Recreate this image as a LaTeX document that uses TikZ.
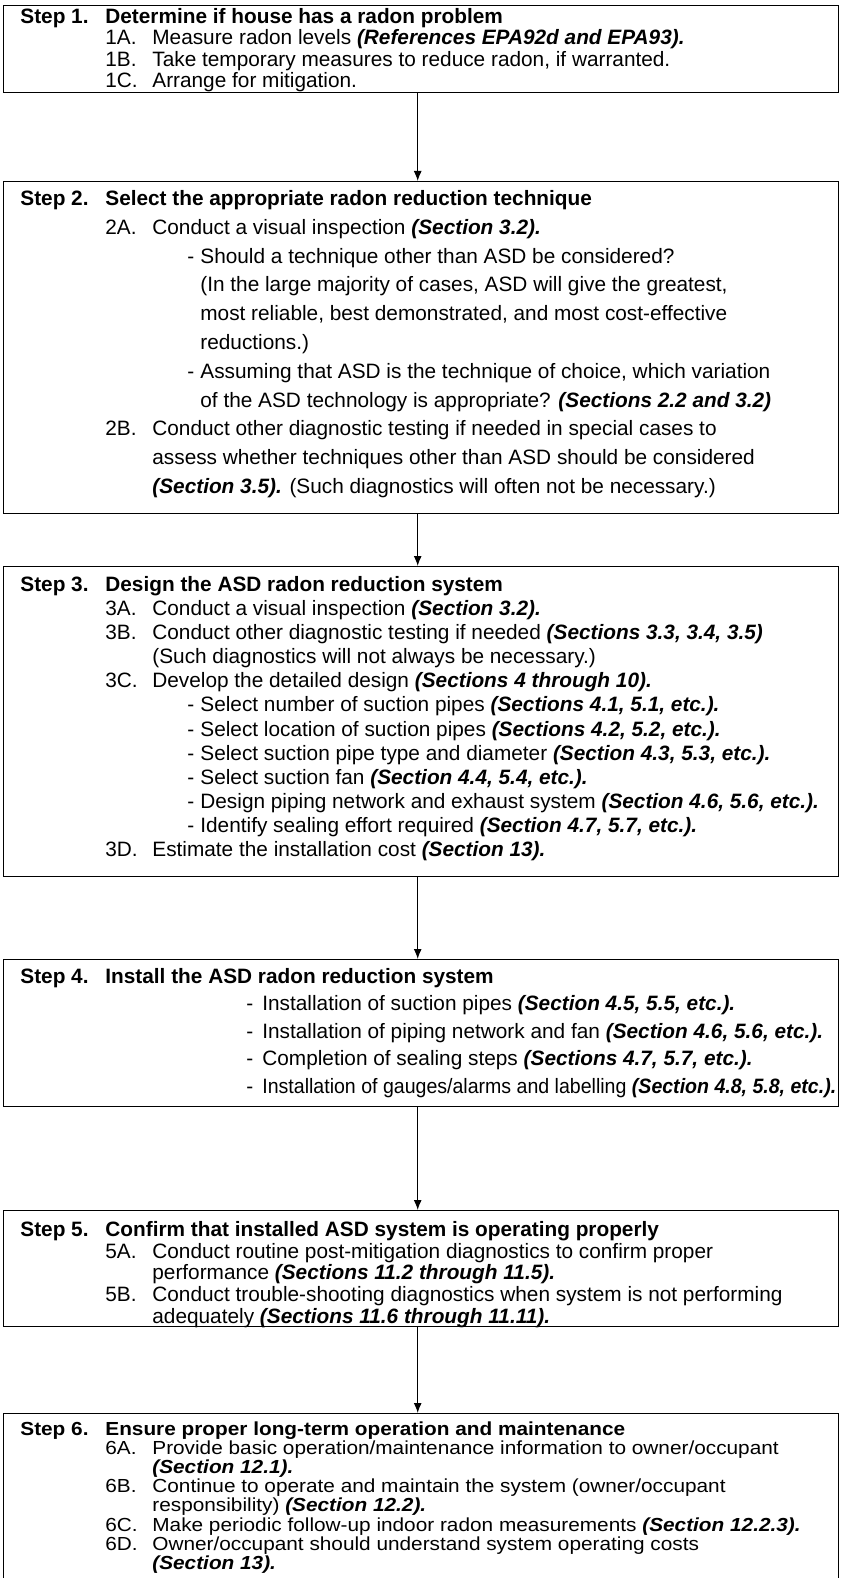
\documentclass[tikz,border=0pt]{standalone}
\usepackage{fontspec}
\setmainfont{Liberation Sans}
\newfontfamily\squatfont[FakeStretch=1.1]{Liberation Sans}
\usetikzlibrary{arrows.meta}

\newcommand{\sect}[1]{\textbf{\textit{#1}}}
\newcommand{\tightlines}{\lineskiplimit=-20pt\relax}
\newcommand{\stephead}[2]{\makebox[42.5pt][l]{\bfseries #1}\textbf{#2}}
\newcommand{\stepitem}[2]{\hspace*{42.5pt}\makebox[23.5pt][l]{#1}#2}
\newcommand{\stepcont}[1]{\hspace*{66pt}#1}
\newcommand{\stepdash}[1]{\hspace*{83.5pt}\makebox[6.5pt][l]{-}#1}
\newcommand{\dashcont}[1]{\hspace*{90pt}#1}
\newcommand{\installdash}[1]{\hspace*{113pt}\makebox[8pt][l]{-}#1}

\begin{document}
\begin{tikzpicture}[x=0.5pt,y=-0.5pt,
    stepbox/.style={draw, line width=0.7pt, anchor=north west, inner sep=0pt,
      minimum width=417.5pt},
    steptext/.style={anchor=north west, inner sep=0pt, align=left,
      font=\fontsize{10.4}{#1}\selectfont\tightlines},
    flow/.style={-{Latex[length=5pt,width=4pt]}, line width=0.6pt}]
  \useasboundingbox (0,0) rectangle (840,1578);

  \foreach \n/\ytop/\ybot in {1/5/92, 2/181/513, 3/566/876,
                              4/959/1106, 5/1210/1326, 6/1413/1584}
    \node[stepbox, minimum height={(\ybot-\ytop)*0.5pt}] (box\n) at (3,\ytop) {};

  \foreach \a/\b in {1/2, 2/3, 3/4, 4/5, 5/6}
    \draw[flow] ([xshift=-1.75pt]box\a.south) -- ([xshift=-1.75pt]box\b.north);

  \node[steptext=10.65pt] (text1) at (20,8) {%
    \stephead{Step 1.}{Determine if house has a radon problem}\\
    \stepitem{1A.}{Measure radon levels \sect{(References EPA92d and EPA93).}}\\
    \stepitem{1B.}{Take temporary measures to reduce radon, if warranted.}\\
    \stepitem{1C.}{Arrange for mitigation.}};

  \node[steptext=14.4pt] (text2) at (20,190) {%
    \stephead{Step 2.}{Select the appropriate radon reduction technique}\\
    \stepitem{2A.}{Conduct a visual inspection \sect{(Section 3.2).}}\\
    \stepdash{Should a technique other than ASD be considered?}\\
    \dashcont{(In the large majority of cases, ASD will give the greatest,}\\
    \dashcont{most reliable, best demonstrated, and most cost-effective}\\
    \dashcont{reductions.)}\\
    \stepdash{Assuming that ASD is the technique of choice, which variation}\\
    \dashcont{of the ASD technology is appropriate? \sect{(Sections 2.2 and 3.2)}}\\
    \stepitem{2B.}{Conduct other diagnostic testing if needed in special cases to}\\
    \stepcont{assess whether techniques other than ASD should be considered}\\
    \stepcont{\sect{(Section 3.5).} (Such diagnostics will often not be necessary.)}};

  \node[steptext=12.05pt] (text3) at (20,576) {%
    \stephead{Step 3.}{Design the ASD radon reduction system}\\
    \stepitem{3A.}{Conduct a visual inspection \sect{(Section 3.2).}}\\
    \stepitem{3B.}{Conduct other diagnostic testing if needed \sect{(Sections 3.3, 3.4, 3.5)}}\\
    \stepcont{(Such diagnostics will not always be necessary.)}\\
    \stepitem{3C.}{Develop the detailed design \sect{(Sections 4 through 10).}}\\
    \stepdash{Select number of suction pipes \sect{(Sections 4.1, 5.1, etc.).}}\\
    \stepdash{Select location of suction pipes \sect{(Sections 4.2, 5.2, etc.).}}\\
    \stepdash{Select suction pipe type and diameter \sect{(Section 4.3, 5.3, etc.).}}\\
    \stepdash{Select suction fan \sect{(Section 4.4, 5.4, etc.).}}\\
    \stepdash{Design piping network and exhaust system \sect{(Section 4.6, 5.6, etc.).}}\\
    \stepdash{Identify sealing effort required \sect{(Section 4.7, 5.7, etc.).}}\\
    \stepitem{3D.}{Estimate the installation cost \sect{(Section 13).}}};

  \node[steptext=13.75pt] (text4) at (20,968) {%
    \stephead{Step 4.}{Install the ASD radon reduction system}\\
    \installdash{Installation of suction pipes \sect{(Section 4.5, 5.5, etc.).}}\\
    \installdash{Installation of piping network and fan \sect{(Section 4.6, 5.6, etc.).}}\\
    \installdash{Completion of sealing steps \sect{(Sections 4.7, 5.7, etc.).}}\\
    \installdash{\scalebox{0.94}[1]{Installation of gauges/alarms and labelling \sect{(Section 4.8, 5.8, etc.).}}}};

  \node[steptext=10.85pt] (text5) at (20,1221) {%
    \stephead{Step 5.}{Confirm that installed ASD system is operating properly}\\
    \stepitem{5A.}{Conduct routine post-mitigation diagnostics to confirm proper}\\
    \stepcont{performance \sect{(Sections 11.2 through 11.5).}}\\
    \stepitem{5B.}{Conduct trouble-shooting diagnostics when system is not performing}\\
    \stepcont{adequately \sect{(Sections 11.6 through 11.11).}}};

  \node[steptext=9.6pt, font=\squatfont\fontsize{9.45}{9.6}\selectfont\tightlines]
    (text6) at (20,1421) {%
    \stephead{Step 6.}{Ensure proper long-term operation and maintenance}\\
    \stepitem{6A.}{Provide basic operation/maintenance information to owner/occupant}\\
    \stepcont{\sect{(Section 12.1).}}\\
    \stepitem{6B.}{Continue to operate and maintain the system (owner/occupant}\\
    \stepcont{responsibility) \sect{(Section 12.2).}}\\
    \stepitem{6C.}{Make periodic follow-up indoor radon measurements \sect{(Section 12.2.3).}}\\
    \stepitem{6D.}{Owner/occupant should understand system operating costs}\\
    \stepcont{\sect{(Section 13).}}};
\end{tikzpicture}
\end{document}
